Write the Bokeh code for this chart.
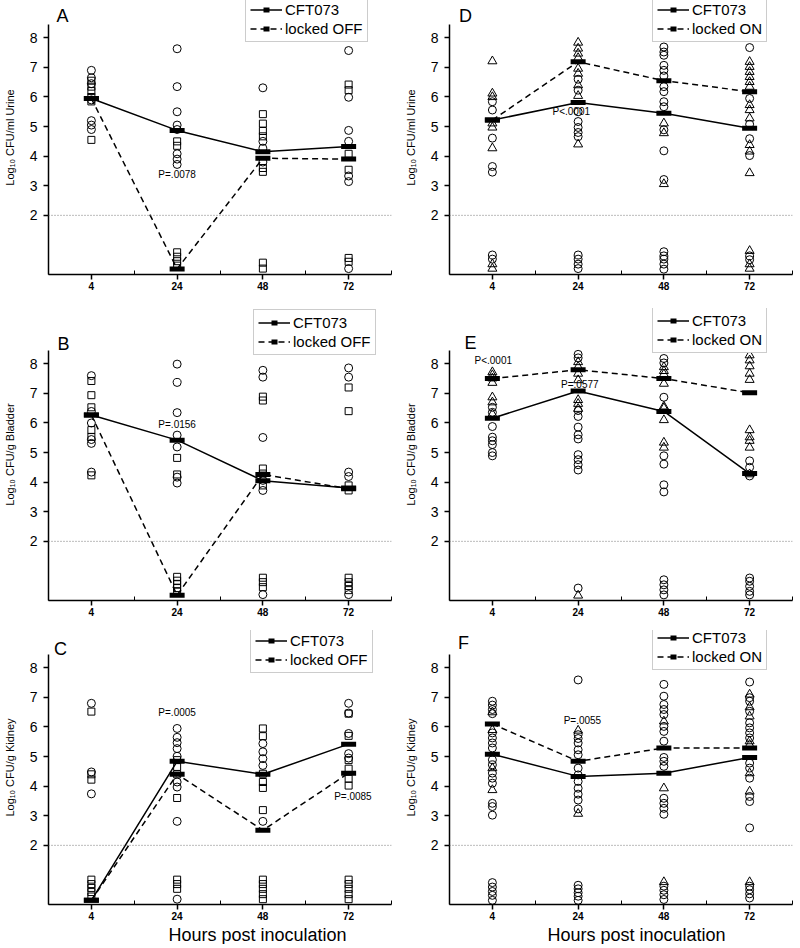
from bokeh.plotting import figure
from bokeh.layouts import column, row
from bokeh.models import FixedTicker, Span, Label, Legend, LegendItem, Range1d, Title
from bokeh.embed import file_html
from bokeh.resources import INLINE

FONT = "Liberation Sans"

hours = ["4", "24", "48", "72"]

# ---------- Panel A: urine, CFT073 vs locked OFF ----------
A_wt = [[6.9, 6.65, 6.45, 5.9, 5.2, 5.05, 4.9],
        [7.63, 6.35, 5.5, 5.05, 4.9, 4.08, 3.9, 3.72],
        [6.31, 4.5, 4.27, 3.8],
        [7.57, 5.99, 4.87, 4.5, 3.33, 3.14, 0.2]]
A_mut = [[6.55, 6.35, 6.2, 6.0, 5.85, 4.55],
         [4.5, 4.35, 0.75, 0.6, 0.45, 0.3],
         [5.42, 5.1, 4.85, 4.67, 3.6, 3.47, 0.4, 0.2],
         [6.42, 6.23, 4.08, 3.54, 0.56, 0.43]]
A_wt_mean = [5.95, 4.87, 4.15, 4.33]
A_mut_mean = [5.95, 0.19, 3.93, 3.9]

# ---------- Panel B: bladder, CFT073 vs locked OFF ----------
B_wt = [[7.6, 6.39, 6.0, 5.44, 5.31, 4.34],
        [7.99, 7.37, 6.35, 5.59, 5.19, 4.17, 3.97],
        [7.78, 7.55, 5.51, 4.06, 3.72, 0.2],
        [7.86, 7.55, 4.34, 4.19, 0.2]]
B_mut = [[7.42, 6.94, 6.53, 5.76, 5.53, 4.23],
         [4.82, 4.26, 0.8, 0.67, 0.55, 0.42, 0.3],
         [6.89, 6.76, 4.46, 4.29, 3.89, 0.77, 0.62, 0.45],
         [7.2, 6.4, 3.89, 3.72, 0.77, 0.62, 0.49, 0.35]]
B_wt_mean = [6.27, 5.42, 4.05, 3.8]
B_mut_mean = [6.27, 0.18, 4.26, 3.78]

# ---------- Panel C: kidney, CFT073 vs locked OFF ----------
C_wt = [[6.8, 4.48, 3.74],
        [5.95, 5.65, 5.47, 5.27, 5.01, 4.14, 3.97, 2.81, 0.18],
        [5.44, 5.16, 4.93, 4.7, 2.81],
        [6.8, 6.47, 5.78, 5.1, 4.95]]
C_mut = [[6.52, 4.4, 4.22, 0.84, 0.69, 0.56, 0.42, 0.27],
         [4.88, 4.65, 4.4, 3.6, 0.84, 0.69, 0.53],
         [5.95, 5.69, 4.42, 4.14, 3.94, 3.19, 0.84, 0.69, 0.53, 0.35, 0.18],
         [6.45, 5.7, 4.88, 4.59, 4.25, 4.02, 0.84, 0.69, 0.53, 0.35, 0.18]]
C_wt_mean = [0.14, 4.84, 4.4, 5.42]
C_mut_mean = [0.14, 4.4, 2.51, 4.44]

# ---------- Panel D: urine, CFT073 vs locked ON ----------
D_wt = [[5.84, 5.56, 4.61, 3.65, 3.46, 0.66, 0.52],
        [6.6, 6.23, 5.5, 5.17, 4.97, 4.8, 4.66, 0.66, 0.52, 0.35, 0.2],
        [7.69, 7.52, 7.41, 7.07, 6.9, 6.71, 6.35, 6.18, 5.84, 5.67, 4.89, 4.18, 3.21,
         0.77, 0.63, 0.52, 0.35, 0.18],
        [7.67, 5.95, 5.08, 4.59, 4.02, 0.63, 0.5]]
D_mut = [[7.21, 6.12, 6.0, 5.11, 4.97, 4.27, 0.35, 0.2],
         [7.84, 7.64, 7.47, 7.32, 6.96, 6.79, 6.4, 6.04, 4.4],
         [5.11, 4.78, 3.06],
         [7.19, 7.02, 6.85, 6.68, 6.51, 6.35, 5.73, 5.56, 5.28, 4.38, 4.16, 3.43, 0.8, 0.35, 0.2]]
D_wt_mean = [5.22, 5.81, 5.45, 4.94]
D_mut_mean = [5.22, 7.19, 6.55, 6.18]

# ---------- Panel E: bladder, CFT073 vs locked ON ----------
E_wt = [[6.53, 6.36, 5.88, 5.52, 5.4, 5.27, 5.0, 4.89],
        [8.32, 8.2, 6.42, 6.22, 5.86, 5.6, 5.46, 4.93, 4.76, 4.59, 4.41, 0.42],
        [8.18, 8.03, 6.87, 4.89, 4.61, 3.91, 3.67, 0.7, 0.53, 0.36, 0.19],
        [4.72, 4.5, 4.21, 0.76, 0.65, 0.48, 0.31, 0.19]]
E_mut = [[7.72, 7.62, 7.51, 7.36, 6.87, 6.7, 6.3],
         [8.06, 7.9, 7.67, 7.45, 6.78, 6.65, 6.48, 0.17],
         [7.89, 7.76, 7.65, 7.33, 6.56, 6.5, 6.1, 5.34, 5.17],
         [8.29, 8.12, 7.92, 7.67, 7.46, 5.76, 5.52, 5.4, 5.17, 4.27]]
E_wt_mean = [6.16, 7.08, 6.39, 4.29]
E_mut_mean = [7.5, 7.8, 7.5, 7.02]

# ---------- Panel F: kidney, CFT073 vs locked ON ----------
F_wt = [[6.87, 6.74, 6.59, 6.45, 5.8, 5.63, 5.46, 5.29, 4.89, 4.72, 4.44, 4.27, 4.1,
         3.42, 3.31, 3.02, 0.74, 0.59, 0.44, 0.31, 0.14],
        [7.59, 5.74, 5.61, 5.46, 5.23, 5.06, 4.61, 4.38, 4.16, 3.93, 3.73, 3.53, 3.23,
         0.65, 0.53, 0.4, 0.28, 0.14],
        [7.44, 7.04, 6.76, 6.59, 6.42, 6.02, 5.85, 5.52, 4.97, 4.84, 4.67, 3.59, 3.42,
         3.25, 3.05, 0.62, 0.48, 0.33, 0.17],
        [7.52, 6.99, 6.87, 6.53, 6.14, 5.97, 5.8, 5.63, 4.78, 4.61, 4.27, 3.65, 3.48,
         2.59, 0.62, 0.5, 0.36, 0.22]]
F_mut = [[6.5, 5.9, 4.61, 3.87],
         [5.88, 3.07],
         [6.19, 3.93, 0.76],
         [7.1, 6.67, 6.36, 5.52, 5.4, 4.44, 3.82, 0.76]]
F_wt_mean = [5.08, 4.33, 4.44, 4.97]
F_mut_mean = [6.1, 4.84, 5.29, 5.29]

y_ticks = [2, 3, 4, 5, 6, 7, 8]
y_axis_top = 8.45
detection_limit = 2

PX_PER_UNIT = 250 / y_axis_top
INK = "black"


def make_panel(letter, wt, mut, wt_mean, mut_mean, mut_marker, mut_name, ylabel,
               plabels, legend_xy, letter_xy, frame_h, bottom, left, right,
               xlabel=None, xlabel_offset=0):
    p = figure(frame_width=343, frame_height=frame_h,
               x_range=Range1d(0.5, 4.5), y_range=Range1d(0, frame_h / PX_PER_UNIT),
               output_backend="svg", toolbar_location=None,
               min_border_top=0, min_border_bottom=bottom,
               min_border_left=left, min_border_right=right)
    p.outline_line_color = None
    p.xgrid.visible = False
    p.ygrid.visible = False
    p.background_fill_color = "white"

    xs = [1, 2, 3, 4]
    # x axis
    p.xaxis.ticker = FixedTicker(ticks=xs, minor_ticks=[0.5, 1.5, 2.5, 3.5, 4.5])
    p.xaxis.major_label_overrides = {i + 1: h for i, h in enumerate(hours)}
    p.xaxis.major_tick_out = 5
    p.xaxis.major_tick_in = 0
    p.xaxis.minor_tick_in = 4
    p.xaxis.minor_tick_out = 0
    p.xaxis.major_label_text_font = FONT
    p.xaxis.major_label_text_font_size = "10px"
    p.xaxis.major_label_text_font_style = "bold"
    p.xaxis.major_label_text_color = INK
    p.xaxis.major_label_standoff = 2
    p.xaxis.axis_line_width = 1.5
    p.xaxis.major_tick_line_width = 1.5
    if xlabel:
        p.add_layout(Title(text=xlabel, align="left", offset=xlabel_offset,
                           text_font=FONT, text_font_size="18px",
                           text_font_style="normal", text_color=INK, standoff=0),
                     "below")

    # y axis
    p.yaxis.ticker = FixedTicker(ticks=y_ticks, minor_ticks=[])
    p.yaxis.bounds = (0, y_axis_top)
    p.yaxis.major_tick_out = 5
    p.yaxis.major_tick_in = 0
    p.yaxis.major_label_text_font = FONT
    p.yaxis.major_label_text_font_size = "14px"
    p.yaxis.major_label_text_color = INK
    p.yaxis.major_label_standoff = 6
    p.yaxis.axis_line_width = 1.5
    p.yaxis.major_tick_line_width = 1.5
    p.yaxis.axis_label = ylabel
    p.yaxis.axis_label_text_font = FONT
    p.yaxis.axis_label_text_font_size = "11px"
    p.yaxis.axis_label_text_font_style = "normal"
    p.yaxis.axis_label_text_color = INK
    p.yaxis.axis_label_standoff = 11

    p.add_layout(Span(location=detection_limit, dimension="width", line_color="#777777",
                      line_dash="1 2", line_width=1))

    # individual points
    wx, wy, mx, my = [], [], [], []
    for i, vals in enumerate(wt):
        wx += [xs[i]] * len(vals)
        wy += vals
    for i, vals in enumerate(mut):
        mx += [xs[i]] * len(vals)
        my += vals
    p.scatter(wx, wy, marker="circle", size=8, fill_alpha=0, line_color=INK, line_width=1)
    msize = 7 if mut_marker == "square" else 9
    p.scatter(mx, my, marker=mut_marker, size=msize, fill_alpha=0, line_color=INK, line_width=1)

    # mean lines + bars
    l1 = p.line(xs, wt_mean, line_color=INK, line_width=1.5)
    l2 = p.line(xs, mut_mean, line_color=INK, line_width=1.5, line_dash="6 4")
    b1 = p.scatter(xs, wt_mean, marker="dash", size=15, line_width=5, line_color=INK)
    b2 = p.scatter(xs, mut_mean, marker="dash", size=15, line_width=5, line_color=INK)

    for txt, px, py in plabels:
        p.add_layout(Label(x=px, y=py, text=txt, text_font=FONT, text_font_size="10px",
                           text_color=INK, text_align="center", text_baseline="middle"))

    p.add_layout(Label(x=letter_xy[0], y=letter_xy[1], x_units="screen", y_units="screen",
                       text=letter, text_font=FONT, text_font_size="18px", text_color=INK,
                       text_baseline="middle", text_align="center"))

    legend = Legend(items=[LegendItem(label="CFT073", renderers=[l1, b1]),
                           LegendItem(label=mut_name, renderers=[l2, b2])],
                    location=legend_xy)
    legend.label_text_font = FONT
    legend.label_text_font_size = "15px"
    legend.label_text_color = INK
    legend.glyph_width = 32
    legend.glyph_height = 15
    legend.label_height = 15
    legend.spacing = 2
    legend.padding = 4
    legend.margin = 0
    legend.label_standoff = 3
    legend.border_line_color = "#999999"
    legend.border_line_width = 1
    legend.background_fill_color = "white"
    legend.background_fill_alpha = 1
    p.add_layout(legend)
    return p


LEFT = dict(left=48, right=9)
RIGHT = dict(left=49, right=6)

pA = make_panel("A", A_wt, A_mut, A_wt_mean, A_mut_mean, "square", "locked OFF",
                "Log\u2081\u2080 CFU/ml Urine", [("P=.0078", 2.0, 3.37)],
                (197, 232), (14, 259), frame_h=274, bottom=34, **LEFT)
pB = make_panel("B", B_wt, B_mut, B_wt_mean, B_mut_mean, "square", "locked OFF",
                "Log\u2081\u2080 CFU/g Bladder", [("P=.0156", 2.0, 5.95)],
                (205, 245), (15, 257), frame_h=292, bottom=30, **LEFT)
pC = make_panel("C", C_wt, C_mut, C_wt_mean, C_mut_mean, "square", "locked OFF",
                "Log\u2081\u2080 CFU/g Kidney",
                [("P=.0005", 2.0, 6.49), ("P=.0085", 4.05, 3.66)],
                (202, 231), (12, 256), frame_h=274, bottom=40,
                xlabel="Hours post inoculation", xlabel_offset=120, **LEFT)
pD = make_panel("D", D_wt, D_mut, D_wt_mean, D_mut_mean, "triangle", "locked ON",
                "Log\u2081\u2080 CFU/ml Urine", [("P<.0001", 1.92, 5.5)],
                (203, 232), (16, 259), frame_h=274, bottom=34, **RIGHT)
pE = make_panel("E", E_wt, E_mut, E_wt_mean, E_mut_mean, "triangle", "locked ON",
                "Log\u2081\u2080 CFU/g Bladder",
                [("P<.0001", 1.01, 8.12), ("P=.0577", 2.02, 7.3)],
                (203, 247), (21, 258), frame_h=292, bottom=30, **RIGHT)
pF = make_panel("F", F_wt, F_mut, F_wt_mean, F_mut_mean, "triangle", "locked ON",
                "Log\u2081\u2080 CFU/g Kidney", [("P=.0055", 2.05, 6.22)],
                (203, 234), (14, 262), frame_h=274, bottom=40,
                xlabel="Hours post inoculation", xlabel_offset=98, **RIGHT)

layout = column(row(pA, pD), row(pB, pE), row(pC, pF))

open("out.html", "w").write(file_html(layout, INLINE))
